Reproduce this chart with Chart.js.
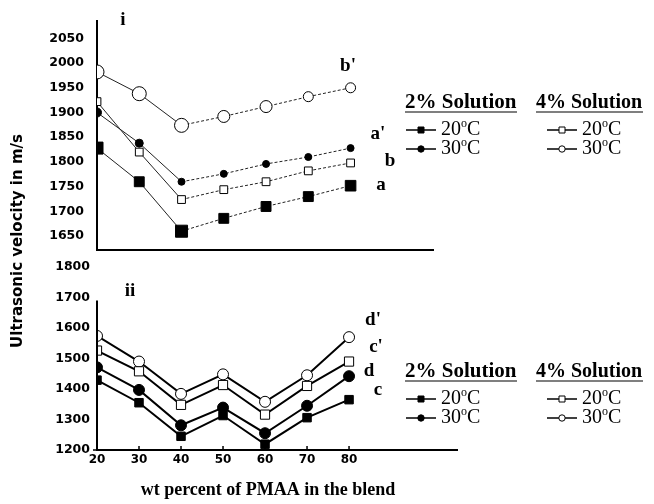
<!DOCTYPE html>
<html>
<head>
<meta charset="utf-8">
<script src="https://cdn.jsdelivr.net/npm/chart.js@4.4.1/dist/chart.umd.min.js"></script>
<style>
  body { margin: 0; background: #fff; }
  #wrap { position: relative; width: 654px; height: 504px; }
  canvas { position: absolute; left: 0; top: 0; }
</style>
</head>
<body>
<div id="wrap">
  <canvas id="top__chart" width="654" height="504"></canvas>
  <canvas id="bottom__chart" width="654" height="504"></canvas>
</div>
<script>
// wt percent of PMAA in the blend
var pmaa = [20, 30, 40, 50, 60, 70, 80];

// panel i
var a_2pct_20C = [1828, 1760, 1660, 1686, 1710, 1730, 1752];
var aPrime_2pct_30C = [1900, 1838, 1760, 1776, 1796, 1810, 1828];
var b_4pct_20C = [1922, 1820, 1724, 1744, 1760, 1782, 1798];
var bPrime_4pct_30C = [1982, 1938, 1874, 1892, 1912, 1932, 1950];

// panel ii
var c_2pct_20C = [1429, 1355, 1245, 1313, 1219, 1306, 1365];
var d_2pct_30C = [1471, 1397, 1281, 1339, 1255, 1345, 1442];
var cPrime_4pct_20C = [1526, 1458, 1348, 1413, 1316, 1410, 1490];
var dPrime_4pct_30C = [1574, 1490, 1384, 1448, 1358, 1445, 1570];

var topTicks = [1650, 1700, 1750, 1800, 1850, 1900, 1950, 2000, 2050];
var bottomTicks = [1200, 1300, 1400, 1500, 1600, 1700, 1800];
var xTicks = [20, 30, 40, 50, 60, 70, 80];

function pts(ys) {
    return ys.map(function (y, i) { return { x: pmaa[i], y: y }; });
}
function fixTicks(list) {
    return function (scale) { scale.ticks = list.map(function (v) { return { value: v }; }); };
}
function plain(v) { return String(v); }

var tickFont = { family: 'DejaVu Sans', weight: 'bold', size: 12.5 };
var dashAfter40 = { borderDash: function (c) { return c.p0DataIndex >= 2 ? [3, 2] : undefined; } };

function txt(ctx, s, x, y, font, align) {
    ctx.font = font;
    ctx.textAlign = align || 'left';
    ctx.textBaseline = 'middle';
    ctx.fillStyle = '#000';
    ctx.fillText(s, x, y);
}
// "20" + raised small o + "C"
function degText(ctx, num, x, y) {
    txt(ctx, num, x, y, '20px "Liberation Serif"');
    var w = ctx.measureText(num).width;
    txt(ctx, 'o', x + w, y - 6, '12px "Liberation Serif"');
    var w2 = ctx.measureText('o').width;
    txt(ctx, 'C', x + w + w2, y, '20px "Liberation Serif"');
}
function marker(ctx, kind, x, y) {
    ctx.strokeStyle = '#000';
    ctx.lineWidth = 1.5;
    ctx.beginPath();
    ctx.moveTo(x - 15, y);
    ctx.lineTo(x + 15, y);
    ctx.stroke();
    ctx.lineWidth = 1;
    ctx.fillStyle = kind.indexOf('open') === 0 ? '#fff' : '#000';
    ctx.beginPath();
    if (kind.indexOf('Rect') > 0) ctx.rect(x - 3, y - 3, 6, 6);
    else ctx.arc(x, y, 3.2, 0, Math.PI * 2);
    ctx.fill();
    ctx.stroke();
}
function legendBlock(ctx, y0) {
    txt(ctx, '2% Solution', 405, y0, 'bold 21px "Liberation Serif"');
    txt(ctx, '4% Solution', 536, y0, 'bold 20px "Liberation Serif"');
    ctx.strokeStyle = '#555';
    ctx.lineWidth = 1.5;
    ctx.beginPath();
    ctx.moveTo(405, y0 + 9); ctx.lineTo(517, y0 + 9);
    ctx.moveTo(536, y0 + 9); ctx.lineTo(643, y0 + 9);
    ctx.stroke();
    marker(ctx, 'fillRect', 421, y0 + 27);
    marker(ctx, 'fillCircle', 421, y0 + 46);
    marker(ctx, 'openRect', 562, y0 + 27);
    marker(ctx, 'openCircle', 562, y0 + 46);
    degText(ctx, '20', 441, y0 + 27);
    degText(ctx, '30', 441, y0 + 46);
    degText(ctx, '20', 582, y0 + 27);
    degText(ctx, '30', 582, y0 + 46);
}

var ctx1 = document.getElementById('top__chart');
var top__chart = new Chart(ctx1, {
    type: 'line',
    data: {
        datasets: [
            { label: 'a', data: pts(a_2pct_20C), pointStyle: 'rect', pointRadius: [8.5, 7, 8.5, 7, 7, 7, 7.5],
              backgroundColor: '#000', segment: dashAfter40 },
            { label: "a'", data: pts(aPrime_2pct_30C), pointStyle: 'circle', pointRadius: [4.5, 4, 3.5, 3.5, 3.5, 3.5, 3.5],
              backgroundColor: '#000', segment: dashAfter40 },
            { label: 'b', data: pts(b_4pct_20C), pointStyle: 'rect', pointRadius: 5.5,
              backgroundColor: '#fff', segment: dashAfter40 },
            { label: "b'", data: pts(bPrime_4pct_30C), pointStyle: 'circle', pointRadius: [7, 7, 7, 6, 6, 5, 5],
              backgroundColor: '#fff', segment: dashAfter40 }
        ]
    },
    options: {
        responsive: false,
        animation: false,
        layout: { padding: { left: 0, top: 20, right: 221, bottom: 254 } },
        elements: {
            line: { borderColor: '#222', borderWidth: 1, tension: 0 },
            point: { borderColor: '#000', borderWidth: 1 }
        },
        plugins: { legend: { display: false }, tooltip: { enabled: false } },
        scales: {
            x: {
                type: 'linear', min: 20, max: 99.5,
                grid: { display: false, drawTicks: false },
                border: { display: true, color: '#000', width: 2 },
                ticks: { display: false },
                afterFit: function (s) { s.height = 0; }
            },
            y: {
                min: 1622, max: 2086,
                afterBuildTicks: fixTicks(topTicks),
                grid: { display: false, drawTicks: false },
                border: { display: true, color: '#000', width: 2 },
                ticks: { color: '#000', font: tickFont, padding: 13, callback: plain },
                afterFit: function (s) { s.width = 97; }
            }
        }
    }
});

var ctx2 = document.getElementById('bottom__chart');
var bottom__chart = new Chart(ctx2, {
    type: 'line',
    data: {
        datasets: [
            { label: 'c', data: pts(c_2pct_20C), pointStyle: 'rect', pointRadius: 6, backgroundColor: '#000' },
            { label: 'd', data: pts(d_2pct_30C), pointStyle: 'circle', pointRadius: 5.5, backgroundColor: '#000' },
            { label: "c'", data: pts(cPrime_4pct_20C), pointStyle: 'rect', pointRadius: 6.5, backgroundColor: '#fff' },
            { label: "d'", data: pts(dPrime_4pct_30C), pointStyle: 'circle', pointRadius: 5.5, backgroundColor: '#fff' }
        ]
    },
    options: {
        responsive: false,
        animation: false,
        layout: { padding: { left: 0, top: 267, right: 197, bottom: 30 } },
        elements: {
            line: { borderColor: '#000', borderWidth: 2, tension: 0 },
            point: { borderColor: '#000', borderWidth: 1 }
        },
        plugins: { legend: { display: false }, tooltip: { enabled: false } },
        scales: {
            x: {
                type: 'linear', min: 20, max: 105.7,
                afterBuildTicks: fixTicks(xTicks),
                grid: { display: false, drawTicks: false },
                border: { display: true, color: '#000', width: 2 },
                ticks: { color: '#000', font: { family: 'DejaVu Sans', weight: 'bold', size: 12 }, padding: 3, callback: plain },
                afterFit: function (s) { s.height = 24; }
            },
            y: {
                min: 1200, max: 1800,
                afterBuildTicks: fixTicks(bottomTicks),
                grid: { display: false, drawTicks: false },
                border: { display: false },
                ticks: { color: '#000', font: tickFont, padding: 7, callback: plain },
                afterFit: function (s) { s.width = 97; }
            }
        }
    },
    plugins: [{
        id: 'decor',
        afterDraw: function (chart) {
            var c = chart.ctx;
            var area = chart.chartArea;
            var ys = chart.scales.y;
            var xs = chart.scales.x;
            c.save();
            // left axis of panel ii
            c.strokeStyle = '#000';
            c.lineWidth = 2;
            c.beginPath();
            c.moveTo(area.left, ys.getPixelForValue(1690));
            c.lineTo(area.left, area.bottom);
            c.stroke();
            // small tick marks above the x axis
            c.lineWidth = 1.5;
            c.beginPath();
            xTicks.forEach(function (v) {
                var px = xs.getPixelForValue(v);
                c.moveTo(px, area.bottom - 4);
                c.lineTo(px, area.bottom);
            });
            c.moveTo(area.left - 4, area.bottom);
            c.lineTo(area.left, area.bottom);
            c.stroke();

            // panel labels and curve names
            var lab = 'bold 19px "Liberation Serif"';
            txt(c, 'i', 123, 20, lab, 'center');
            txt(c, 'ii', 130, 291, lab, 'center');
            txt(c, "b'", 348, 66, lab, 'center');
            txt(c, "a'", 378, 134, lab, 'center');
            txt(c, 'b', 390, 161, lab, 'center');
            txt(c, 'a', 381, 185, lab, 'center');
            txt(c, "d'", 373, 320, lab, 'center');
            txt(c, "c'", 376, 347, lab, 'center');
            txt(c, 'd', 369, 371, lab, 'center');
            txt(c, 'c', 378, 390, lab, 'center');

            legendBlock(c, 103);
            legendBlock(c, 372);

            // axis titles
            txt(c, 'wt percent of PMAA in the blend', 268, 490, 'bold 18px "Liberation Serif"', 'center');
            c.translate(18, 241);
            c.rotate(-Math.PI / 2);
            txt(c, 'Ultrasonic velocity in m/s', 0, 0, 'bold 15px "DejaVu Sans"', 'center');
            c.restore();
        }
    }]
});
</script>
</body>
</html>
